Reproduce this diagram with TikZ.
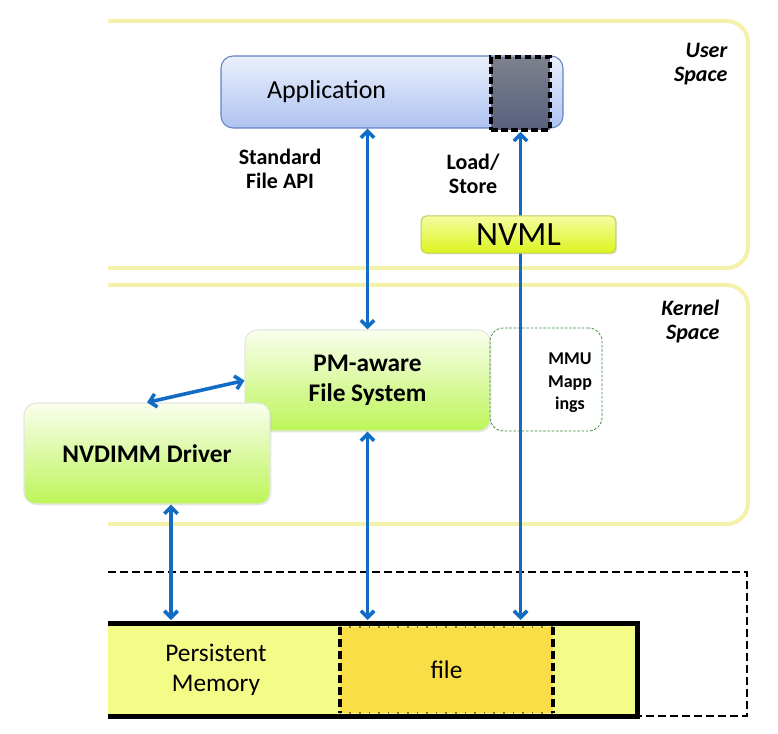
\documentclass[tikz,border=0pt]{standalone}
\usepackage{fontspec}
\setmainfont{Carlito}
\usetikzlibrary{arrows.meta,shadows}
\definecolor{panelc}{RGB}{245,240,170}
\definecolor{arrowc}{RGB}{18,108,196}
\definecolor{apptop}{RGB}{234,240,252}
\definecolor{appbot}{RGB}{174,194,240}
\definecolor{appline}{RGB}{100,130,196}
\definecolor{sqtop}{RGB}{124,129,140}
\definecolor{sqbot}{RGB}{88,96,126}
\definecolor{nvtop}{RGB}{244,253,160}
\definecolor{nvbot}{RGB}{220,244,30}
\definecolor{nvline}{RGB}{196,204,90}
\definecolor{grtop}{RGB}{250,254,238}
\definecolor{grbot}{RGB}{188,245,88}
\definecolor{grline}{RGB}{226,232,220}
\definecolor{memc}{RGB}{244,252,136}
\definecolor{filec}{RGB}{249,222,72}
\definecolor{dotc}{RGB}{150,110,30}
\definecolor{mmuc}{RGB}{60,140,60}
\tikzset{
  panelline/.style={draw=panelc,line width=3pt,rounded corners=16pt},
  biarrow/.style={draw=arrowc,line width=2.7pt,{Straight Barb[length=5pt,width=10pt]}-{Straight Barb[length=5pt,width=10pt]}},
  greenbox/.style={draw=grline,line width=0.8pt,rounded corners=9pt,top color=grtop,bottom color=grbot,
    drop shadow={opacity=0.2,shadow xshift=1pt,shadow yshift=-1pt},
    font=\fontsize{19}{22.5}\selectfont\bfseries,align=center},
  lbl/.style={font=\fontsize{16.5}{18}\selectfont\bfseries,align=center},
  spacelbl/.style={font=\fontsize{16.5}{18}\selectfont\bfseries\itshape,align=right},
}
\begin{document}
\begin{tikzpicture}[x=0.75pt,y=-0.75pt]
\useasboundingbox (0,0) rectangle (778,734);

% clipped panels and memory bar
\begin{scope}
  \clip (108,0) rectangle (778,734);
  \draw[panelline] (60,21) rectangle (748,268);
  \draw[panelline] (60,285) rectangle (748,524);
  \draw[black,line width=1.2pt,dash pattern=on 6pt off 3pt] (60,572) -- (747,572) -- (747,716) -- (637,716);
  \fill[memc] (60,623) rectangle (637,716);
\end{scope}

% file region
\node[fill=filec,minimum width=159.75pt,minimum height=64.5pt,inner sep=0pt,
      font=\fontsize{19}{22}\selectfont] (file) at (446.5,670) {file};
\draw[dotc,line width=1.5pt,dash pattern=on 1.2pt off 6pt] (file.north west) -- (file.north east);
\draw[dotc,line width=1.5pt,dash pattern=on 1.2pt off 6pt] (file.south west) -- (file.south east);
\draw[black,line width=3pt,dash pattern=on 6pt off 3pt] (file.north west) -- (file.south west);
\draw[black,line width=3pt,dash pattern=on 6pt off 3pt] (file.north east) -- (file.south east);

\begin{scope}
  \clip (108,0) rectangle (778,734);
  \draw[black,line width=3.75pt] (60,623) -- (637,623) -- (637,716) -- (60,716);
\end{scope}
\node[font=\fontsize{19}{22.5}\selectfont,align=center] (pmem) at (216,670) {Persistent\\Memory};
\coordinate (memtop) at (0,620);

% application
\node[draw=appline,line width=0.8pt,rounded corners=9pt,top color=apptop,bottom color=appbot,
      minimum height=54pt,text width=187.5pt,inner xsep=34.5pt,align=left,
      font=\fontsize{19.5}{22}\selectfont] (app) at (392,92) {Application};
\node[draw=black,line width=3pt,dash pattern=on 5pt off 2.5pt,top color=sqtop,bottom color=sqbot,
      minimum width=44pt,minimum height=54.5pt,inner sep=0pt] (sq) at (520.5,93.5) {};

\node[lbl] (api) at (280,169) {Standard\\File API};
\node[lbl] (ls) at (473,174) {Load/\\Store};
\node[spacelbl,anchor=east] (us) at (732,64) {User\\Space};
\node[spacelbl,anchor=east] (ks) at (724,322) {Kernel\\Space};

% kernel boxes
\node[greenbox,minimum width=183.75pt,minimum height=75.75pt] (pm) at (367.5,380.5) {PM-aware\\File System};
\node[greenbox,minimum width=184.5pt,minimum height=75.75pt] (nvd) at (147,453.5) {NVDIMM Driver};
\node[draw=mmuc,line width=0.6pt,dash pattern=on 2pt off 1.2pt,rounded corners=10pt,
      minimum width=84pt,minimum height=77.25pt] (mmu) at (546,379.5) {};
\node[font=\fontsize{13.5}{17}\selectfont\bfseries,align=center] (mmut) at (570,383) {MMU\\Mapp\\ings};

% arrows
\draw[biarrow] (pm.north |- app.south) -- (pm.north);
\draw[biarrow] (sq.south) -- (sq.south |- memtop);
\draw[biarrow] (nvd.north) -- (pm.west);
\draw[biarrow] ([xshift=18pt]nvd.south) -- ([xshift=18pt]nvd.south |- memtop);
\draw[biarrow] (pm.south) -- (pm.south |- memtop);

% NVML over the arrow
\node[draw=nvline,line width=0.8pt,rounded corners=4pt,top color=nvtop,bottom color=nvbot,
      drop shadow={opacity=0.2,shadow xshift=1pt,shadow yshift=-1pt},
      minimum width=146pt,minimum height=28pt,font=\fontsize{25.5}{28}\selectfont] (nvml) at (518.5,234.5) {NVML};
\end{tikzpicture}
\end{document}
